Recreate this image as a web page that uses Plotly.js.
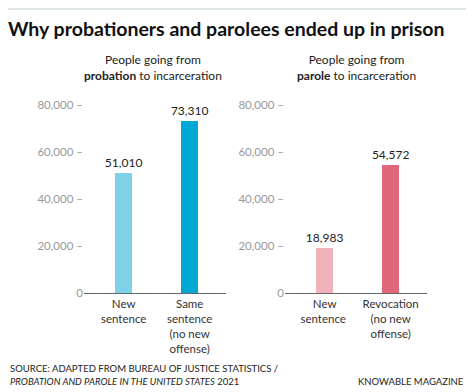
<!DOCTYPE html>
<html>
<head>
<meta charset="utf-8">
<script src="https://cdn.plot.ly/plotly-3.0.1.min.js"></script>
<style>html,body{margin:0;padding:0;background:#fff;}#chart{width:474px;height:392px;}</style>
</head>
<body>
<div id="chart"></div>
<script>
// Data
const probationCategories = ["New<br>sentence", "Same<br>sentence<br>(no new<br>offense)"];
const probationValues = [51010, 73310];
const paroleCategories = ["New<br>sentence ", "Revocation<br>(no new<br>offense)"];
const paroleValues = [18983, 54572];
const yTickValues = [0, 20000, 40000, 60000, 80000];
const yTickLabels = ["0", "20,000\u00a0\u2013", "40,000\u00a0\u2013", "60,000\u00a0\u2013", "80,000\u00a0\u2013"];

const W = 474, H = 392;
const px = v => v / W;
const py = v => 1 - v / H;
const FONT = "Lato, Open Sans, sans-serif";

const fmt = v => v.toLocaleString('en-US');

const traces = [
  {
    type: 'bar', x: probationCategories, y: probationValues,
    xaxis: 'x', yaxis: 'y',
    marker: {color: ['#7fd1e9', '#00a9d4']},
    width: 0.26,
    text: probationValues.map(fmt), textposition: 'outside', constraintext: 'none',
    textfont: {family: FONT, size: 12, color: '#222'},
    cliponaxis: false, hoverinfo: 'none'
  },
  {
    type: 'bar', x: paroleCategories, y: paroleValues,
    xaxis: 'x2', yaxis: 'y2',
    marker: {color: ['#f2b2bc', '#e0677a']},
    width: 0.26,
    text: paroleValues.map(fmt), textposition: 'outside', constraintext: 'none',
    textfont: {family: FONT, size: 12, color: '#222'},
    cliponaxis: false, hoverinfo: 'none'
  }
];

const yAxisBase = {
  range: [0, 80000], tickmode: 'array', tickvals: yTickValues, ticktext: yTickLabels,
  showgrid: false, zeroline: false, showline: false,
  ticks: '',
  tickfont: {family: FONT, size: 11.5, color: '#999'},
  domain: [py(293), py(105)], fixedrange: true
};
const xAxisBase = {
  type: 'category', range: [-0.6, 1.55],
  showline: true, linecolor: '#666', linewidth: 1,
  ticks: '', showgrid: false, zeroline: false,
  tickfont: {family: FONT, size: 11.5, color: '#333'},
  fixedrange: true
};

const layout = {
  width: W, height: H,
  margin: {l: 0, r: 0, t: 0, b: 0},
  paper_bgcolor: '#fff', plot_bgcolor: '#fff',
  showlegend: false,
  bargap: 0,
  title: {
    text: 'Why probationers and parolees ended up in prison',
    x: px(8), xanchor: 'left', xref: 'paper',
    y: py(29), yanchor: 'middle', yref: 'paper',
    font: {family: FONT, size: 19.5, color: '#111', weight: 700}
  },
  xaxis: Object.assign({}, xAxisBase, {domain: [px(84), px(226)], anchor: 'y'}),
  yaxis: Object.assign({}, yAxisBase, {anchor: 'x'}),
  xaxis2: Object.assign({}, xAxisBase, {domain: [px(285), px(427)], anchor: 'y2'}),
  yaxis2: Object.assign({}, yAxisBase, {anchor: 'x2'}),
  shapes: [
    {type: 'line', xref: 'paper', yref: 'paper', x0: px(8), x1: px(466), y0: py(9), y1: py(9),
     line: {color: '#dde4e4', width: 2}}
  ],
  annotations: [
    {text: 'People going from<br><b>probation</b> to incarceration', xref: 'paper', yref: 'paper',
     x: px(153), y: py(67.5), xanchor: 'center', yanchor: 'middle', showarrow: false, align: 'center',
     font: {family: FONT, size: 12, color: '#222'}},
    {text: 'People going from<br><b>parole</b> to incarceration', xref: 'paper', yref: 'paper',
     x: px(356), y: py(67.5), xanchor: 'center', yanchor: 'middle', showarrow: false, align: 'center',
     font: {family: FONT, size: 12, color: '#222'}},
    {text: 'SOURCE: ADAPTED FROM BUREAU OF JUSTICE STATISTICS /', xref: 'paper', yref: 'paper',
     x: px(8), y: py(368), xanchor: 'left', yanchor: 'middle', showarrow: false,
     font: {family: FONT, size: 9.5, color: '#222'}},
    {text: '<i>PROBATION AND PAROLE IN THE UNITED STATES</i> 2021', xref: 'paper', yref: 'paper',
     x: px(8), y: py(381), xanchor: 'left', yanchor: 'middle', showarrow: false,
     font: {family: FONT, size: 9.5, color: '#222'}},
    {text: 'KNOWABLE MAGAZINE', xref: 'paper', yref: 'paper',
     x: px(466), y: py(381), xanchor: 'right', yanchor: 'middle', showarrow: false,
     font: {family: FONT, size: 9.5, color: '#222'}}
  ]
};

Plotly.newPlot('chart', traces, layout, {displayModeBar: false, staticPlot: true});
</script>
</body>
</html>
